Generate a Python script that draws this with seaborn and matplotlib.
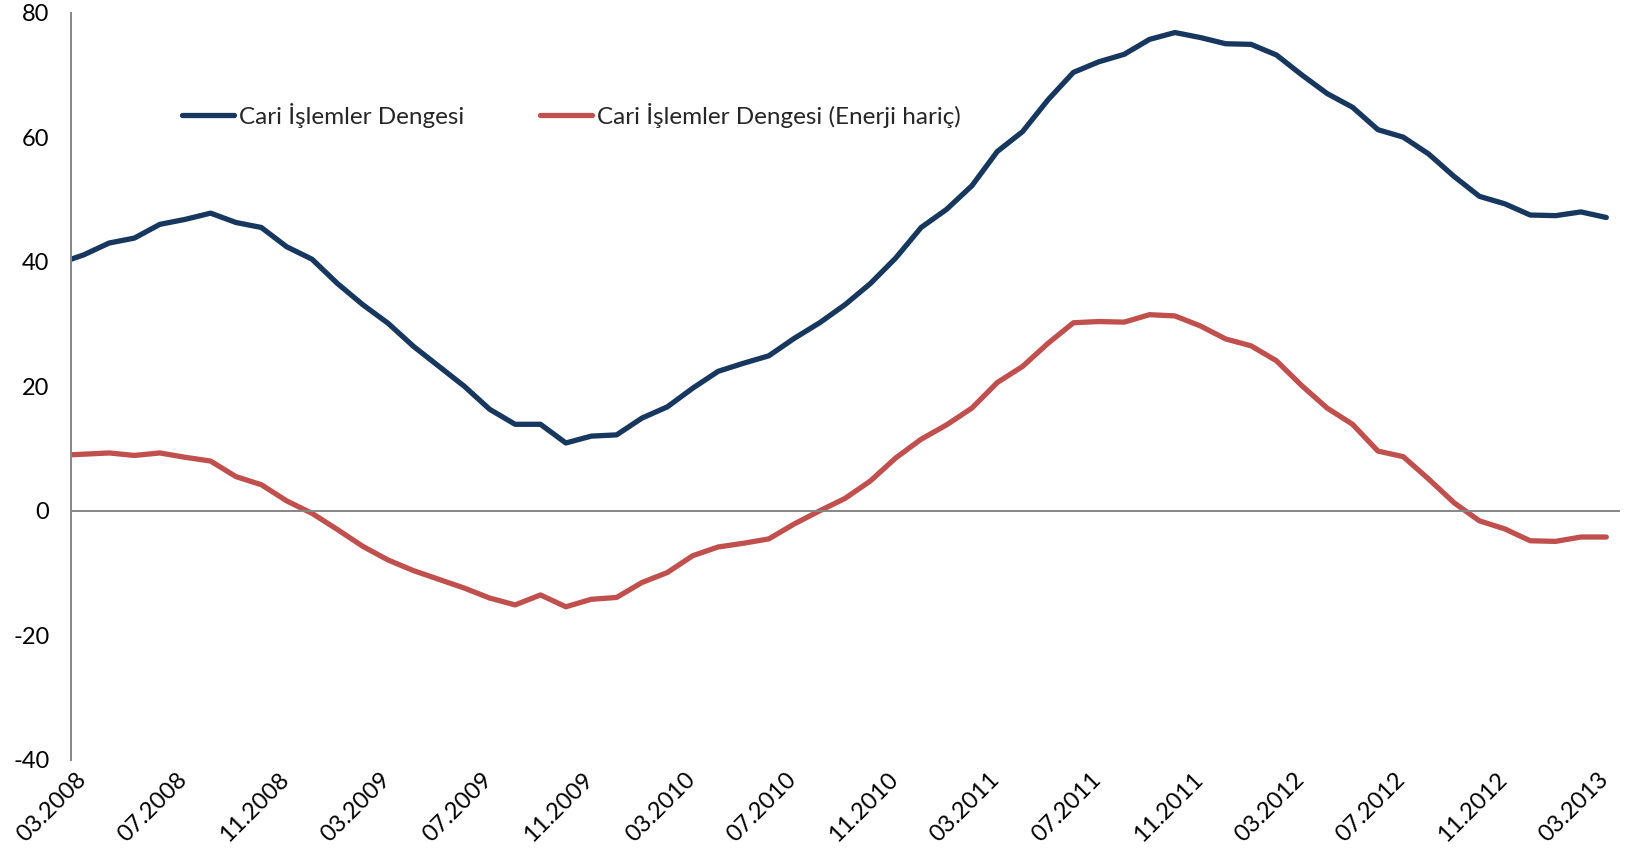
import numpy as np
import pandas as pd
import matplotlib
matplotlib.use("Agg")
import matplotlib.pyplot as plt
import matplotlib.transforms as mtransforms
import seaborn as sns

# ---------------- data ----------------
months = pd.date_range("2008-02-01", periods=62, freq="MS").strftime("%m.%Y").tolist()

cari = [39.7, 41.1, 43.0, 43.8, 46.0, 46.8, 47.8, 46.3, 45.5, 42.4,
        40.4, 36.5, 33.1, 30.1, 26.4, 23.2, 20.0, 16.3, 13.9, 13.9,
        10.9, 12.0, 12.2, 14.9, 16.7, 19.7, 22.4, 23.7, 24.9, 27.7,
        30.2, 33.1, 36.5, 40.6, 45.5, 48.4, 52.2, 57.7, 60.9, 66.0,
        70.4, 72.1, 73.3, 75.7, 76.8, 76.0, 75.0, 74.9, 73.2, 70.0,
        67.0, 64.8, 61.2, 60.0, 57.3, 53.7, 50.5, 49.3, 47.5, 47.4,
        48.0, 47.1]

enerji_haric = [8.9, 9.1, 9.3, 8.9, 9.3, 8.6, 8.0, 5.5, 4.2, 1.6,
                -0.4, -3.0, -5.7, -7.9, -9.6, -11.0, -12.4, -14.0, -15.1, -13.5,
                -15.4, -14.2, -13.9, -11.5, -9.9, -7.2, -5.8, -5.2, -4.5, -2.1,
                0.0, 2.0, 4.8, 8.5, 11.5, 13.8, 16.5, 20.6, 23.2, 26.9,
                30.2, 30.4, 30.3, 31.5, 31.3, 29.7, 27.6, 26.5, 24.1, 20.1,
                16.5, 13.9, 9.6, 8.7, 5.1, 1.3, -1.6, -2.9, -4.8, -4.9,
                -4.2, -4.2]

tick_labels = ["03.2008", "07.2008", "11.2008", "03.2009", "07.2009", "11.2009",
               "03.2010", "07.2010", "11.2010", "03.2011", "07.2011", "11.2011",
               "03.2012", "07.2012", "11.2012", "03.2013"]

series_names = ["Cari İşlemler Dengesi", "Cari İşlemler Dengesi (Enerji hariç)"]
colors = ["#17375E", "#C0504D"]
y_ticks = [-40, -20, 0, 20, 40, 60, 80]

# month slot positions: each month occupies [k, k+1), value drawn at centre
start = months.index("03.2008")
pos = [i - start + 0.5 for i in range(len(months))]
tick_pos = [months.index(t) - start for t in tick_labels]

df = pd.DataFrame({
    "pos": pos * 2,
    "value": cari + enerji_haric,
    "series": [series_names[0]] * len(months) + [series_names[1]] * len(months),
})

# ---------------- style ----------------
sns.set_style("white")
plt.rcParams["font.family"] = ["Lato", "DejaVu Sans"]
plt.rcParams["font.size"] = 17

W, H = 1630, 864
fig = plt.figure(figsize=(W / 100, H / 100), dpi=100)
ax_left, ax_right = 71, 1619
ax_top, ax_bottom = 12.6, 760
ax = fig.add_axes([ax_left / W, 1 - ax_bottom / H,
                   (ax_right - ax_left) / W, (ax_bottom - ax_top) / H])

sns.lineplot(data=df, x="pos", y="value", hue="series", hue_order=series_names,
             palette=colors, linewidth=3.8, estimator=None, sort=False, ax=ax,
             solid_capstyle="round", solid_joinstyle="round")

grey = "#868686"
ax.set_xlim(0, 61)
ax.set_ylim(-40, 80)
ax.set_yticks(y_ticks)
ax.set_yticklabels([str(v) for v in y_ticks])
ax.set_xticks(tick_pos)
ax.set_xlabel("")
ax.set_ylabel("")

for s in ["top", "right"]:
    ax.spines[s].set_visible(False)
ax.spines["bottom"].set_position(("data", 0))
for s in ["left", "bottom"]:
    ax.spines[s].set_color(grey)
    ax.spines[s].set_linewidth(1.4)

ax.tick_params(axis="x", direction="out", length=5.5, width=1.4, color=grey,
               labelbottom=False)
ax.tick_params(axis="y", direction="out", length=5.5, width=1.4, color=grey,
               pad=10, labelsize=17, labelcolor="black")
ax.grid(False)

# rotated date labels at the bottom of the plot area
trans = mtransforms.blended_transform_factory(ax.transData, ax.transAxes) + \
    mtransforms.ScaledTranslation(19 / 100, -9 / 100, fig.dpi_scale_trans)
for p, lab in zip(tick_pos, tick_labels):
    ax.text(p, 0, lab, transform=trans, rotation=45, ha="right", va="top",
            fontsize=17, color="black")

# legend
handles, labels = ax.get_legend_handles_labels()
for h in handles:
    h.set_linewidth(3.8)
    h.set_solid_capstyle("round")
leg = ax.legend(handles, labels, loc="center left", ncol=2, frameon=False,
                bbox_to_anchor=(182 / W, 1 - 115 / H),
                bbox_transform=fig.transFigure,
                borderpad=0, borderaxespad=0, handlelength=2.15,
                handletextpad=0.2, columnspacing=3.1, fontsize=17.5)

fig.savefig("out.png", dpi=100)
